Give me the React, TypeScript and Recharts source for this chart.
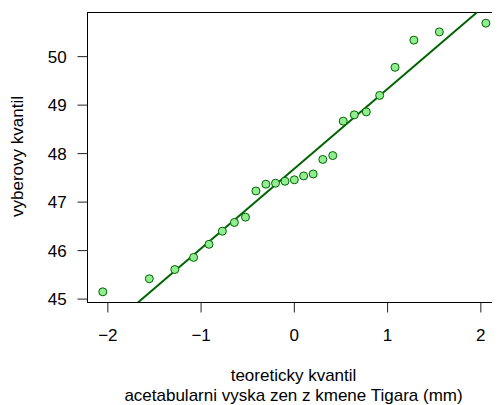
import React from "react";
import { ScatterChart, Scatter, XAxis, YAxis, ReferenceLine, ReferenceArea } from "recharts";

// theoretical normal quantiles (x) and sorted sample quantiles (y)
const THEO = [-2.054, -1.555, -1.282, -1.08, -0.915, -0.772, -0.643, -0.524, -0.412, -0.305, -0.202, -0.1, 0, 0.1, 0.202, 0.305, 0.412, 0.524, 0.643, 0.772, 0.915, 1.08, 1.282, 1.555, 2.054];
const SAMPLE = [45.15, 45.42, 45.61, 45.86, 46.13, 46.4, 46.58, 46.69, 47.23, 47.37, 47.39, 47.43, 47.46, 47.54, 47.58, 47.88, 47.96, 48.67, 48.8, 48.86, 49.2, 49.78, 50.34, 50.51, 50.69];
const X_TICKS = [-2, -1, 0, 1, 2];
const Y_TICKS = [45, 46, 47, 48, 49, 50];
const X_DOMAIN = [-2.218, 2.2];
const Y_DOMAIN = [44.93, 50.91];
const X_TITLE = "teoreticky kvantil";
const X_SUBTITLE = "acetabularni vyska zen z kmene Tigara (mm)";
const Y_TITLE = "vyberovy kvantil";

const points = THEO.map((x, i) => ({ x, y: SAMPLE[i] }));

// qqline through the 1st and 3rd quartiles (type 7)
function quantile7(sorted: number[], p: number) {
  const h = (sorted.length - 1) * p;
  const lo = Math.floor(h);
  const hi = Math.ceil(h);
  return sorted[lo] + (h - lo) * (sorted[hi] - sorted[lo]);
}
const Z75 = 0.6745;
const q1 = quantile7(SAMPLE, 0.25);
const q3 = quantile7(SAMPLE, 0.75);
const slope = (q3 - q1) / (2 * Z75);
const intercept = q1 + slope * Z75;
const lineAt = (x: number) => intercept + slope * x;
const xAt = (y: number) => (y - intercept) / slope;
const x0 = Math.max(X_DOMAIN[0], xAt(Y_DOMAIN[0]));
const x1 = Math.min(X_DOMAIN[1], xAt(Y_DOMAIN[1]));
const segStart = { x: x0, y: lineAt(x0) };
const segEnd = { x: x1, y: lineAt(x1) };

const FONT = "'Liberation Sans', Arial, Helvetica, sans-serif";
const FS = 17;
const minus = (v: number) => String(v).replace("-", "\u2212");

const XLabel = (props: any) => {
  const vb = props.viewBox || {};
  const cx = vb.x + vb.width / 2;
  return (
    <g>
      <text x={cx} y={vb.y + 78.6} textAnchor="middle" fontFamily={FONT} fontSize={FS} fill="#000">{X_TITLE}</text>
      <text x={cx} y={vb.y + 98.6} textAnchor="middle" fontFamily={FONT} fontSize={FS} fill="#000">{X_SUBTITLE}</text>
    </g>
  );
};

const YLabel = (props: any) => {
  const vb = props.viewBox || {};
  const cy = vb.y + vb.height / 2 - 1;
  const x = 15;
  return (
    <text x={x} y={cy} transform={`rotate(-90, ${x}, ${cy})`} textAnchor="middle" fontFamily={FONT} fontSize={FS} fill="#000">{Y_TITLE}</text>
  );
};

const Dot = (props: any) => (
  <circle cx={props.cx} cy={props.cy} r={4} fill="#90EE90" stroke="#006400" strokeWidth={1} />
);

export default function App() {
  return (
    <ScatterChart width={492} height={397} margin={{ top: 4.5, right: 0.5, bottom: 0, left: 0 }} style={{ overflow: "visible" }}>
      <XAxis
        type="number"
        dataKey="x"
        domain={X_DOMAIN}
        ticks={X_TICKS}
        allowDataOverflow
        tickFormatter={minus}
        height={102.5}
        tickSize={10}
        tickMargin={16.5}
        axisLine={{ stroke: "#000" }}
        tickLine={{ stroke: "#222" }}
        tick={{ fill: "#000", fontFamily: FONT, fontSize: FS }}
        label={{ content: XLabel }}
      />
      <YAxis
        type="number"
        dataKey="y"
        domain={Y_DOMAIN}
        ticks={Y_TICKS}
        allowDataOverflow
        width={79.5}
        tickSize={10}
        tickMargin={10.8}
        axisLine={{ stroke: "#000" }}
        tickLine={{ stroke: "#222" }}
        tick={{ fill: "#000", fontFamily: FONT, fontSize: FS }}
        label={{ content: YLabel }}
      />
      <ReferenceArea x1={X_DOMAIN[0]} x2={X_DOMAIN[1]} y1={Y_DOMAIN[0]} y2={Y_DOMAIN[1]} fill="none" fillOpacity={0} stroke="#000" strokeWidth={1} ifOverflow="visible" />
      <ReferenceLine segment={[segStart, segEnd]} stroke="#006400" strokeWidth={2} ifOverflow="visible" />
      <Scatter data={points} shape={Dot} isAnimationActive={false} />
    </ScatterChart>
  );
}
